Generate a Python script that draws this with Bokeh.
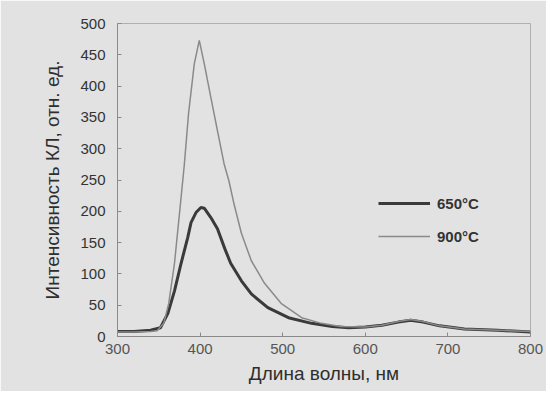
from bokeh.plotting import figure
from bokeh.models import Range1d, Legend, LegendItem, FixedTicker
from bokeh.embed import file_html
from bokeh.resources import INLINE

# Data
wl_650 = [300, 320, 340, 352, 361, 369, 377, 385, 389, 395, 401, 405, 413, 421, 430, 437,
          450, 462, 482, 507, 535, 560, 580, 600, 620, 640, 655, 670, 690, 720, 760, 800]
cl_650 = [8, 8, 10, 14, 37, 73, 117, 158, 182, 198, 206, 205, 190, 172, 140, 117,
          89, 68, 46, 30, 21, 16, 14, 15, 18, 23, 26, 23, 17, 12, 10, 7]

wl_900 = [300, 320, 340, 348, 356, 362, 369, 375, 381, 386, 393, 399, 405, 413, 421, 429,
          435, 441, 450, 462, 478, 498, 523, 547, 570, 600, 620, 640, 655, 670, 690, 720, 760, 800]
cl_900 = [7, 7, 8, 9, 21, 53, 117, 196, 276, 356, 436, 473, 436, 382, 329, 276,
          248, 212, 165, 121, 85, 53, 30, 21, 16, 15, 18, 24, 27, 24, 17, 12, 10, 8]

x_ticks = [300, 400, 500, 600, 700, 800]
y_ticks = [0, 50, 100, 150, 200, 250, 300, 350, 400, 450, 500]

BG = "#e2e2e2"
FONT = "Liberation Sans"

p = figure(width=546, height=391, output_backend="svg", toolbar_location=None,
           x_range=Range1d(300, 800), y_range=Range1d(0, 500),
           min_border_left=117, min_border_right=16, min_border_top=23, min_border_bottom=55)
p.background_fill_color = BG
p.border_fill_color = BG
p.outline_line_color = "#b0b0b0"
p.outline_line_width = 1
p.grid.visible = False

r650 = p.line(wl_650, cl_650, line_color="#3a3a3a", line_width=3)
r900 = p.line(wl_900, cl_900, line_color="#8a8a8a", line_width=1.5)

for ax in (p.xaxis[0], p.yaxis[0]):
    ax.axis_line_color = "#8a8a8a"
    ax.major_tick_line_color = "#8a8a8a"
    ax.major_tick_in = 4
    ax.major_tick_out = 0
    ax.minor_tick_line_color = None
    ax.major_label_text_font = FONT
    ax.major_label_text_font_size = "15px"
    ax.axis_label_text_font = FONT
    ax.axis_label_text_font_size = "19px"
    ax.axis_label_text_font_style = "normal"
    ax.axis_label_text_color = "#2e2e2e"

p.xaxis.ticker = FixedTicker(ticks=x_ticks)
p.yaxis.ticker = FixedTicker(ticks=y_ticks)
p.xaxis.major_label_text_color = "#555555"
p.yaxis.major_label_text_color = "#333333"
p.xaxis.major_label_standoff = 7
p.yaxis.major_label_standoff = 12
p.xaxis.axis_label = "Длина волны, нм"
p.yaxis.axis_label = "Интенсивность КЛ, отн. ед."
p.xaxis.axis_label_standoff = 6
p.yaxis.axis_label_standoff = 14

legend = Legend(items=[LegendItem(label="650°C", renderers=[r650]),
                       LegendItem(label="900°C", renderers=[r900])],
                location=(261, 90), background_fill_alpha=0, border_line_color=None,
                label_text_font=FONT, label_text_font_size="15px",
                label_text_font_style="bold", label_text_color="#333333",
                glyph_width=52, spacing=13, label_standoff=7)
p.add_layout(legend)

open("out.html", "w").write(file_html(p, INLINE))
